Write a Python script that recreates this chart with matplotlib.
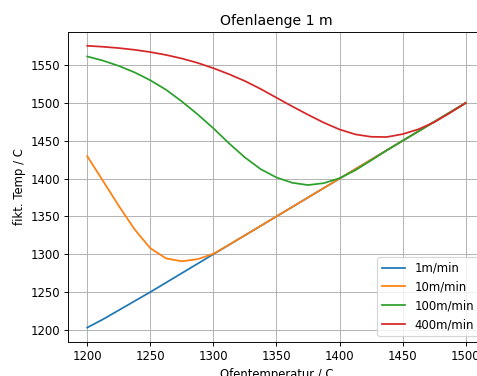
import numpy as np
import matplotlib
matplotlib.use("Agg")
import matplotlib.pyplot as plt

# Ofentemperatur (C)
T = np.arange(1200, 1500.1, 12.5)

# fiktive Temperatur fuer verschiedene Ziehgeschwindigkeiten
v1 = [1203, 1214, 1226, 1238, 1250, 1262.5, 1275, 1287.5, 1300, 1312.5,
      1325, 1337.5, 1350, 1362.5, 1375, 1387.5, 1400, 1412.5, 1425, 1437.5,
      1450, 1462.5, 1475, 1487.5, 1500]
v10 = [1429.6, 1397, 1364, 1333, 1308, 1294.5, 1290.7, 1293.5, 1300.5, 1312.6,
       1325, 1337.5, 1350, 1362.5, 1375, 1387.5, 1400, 1412.5, 1425, 1437.5,
       1450, 1462.5, 1475, 1487.5, 1500]
v100 = [1561.5, 1556, 1549, 1540.5, 1530, 1517.5, 1502, 1485, 1466.5, 1446.5,
        1428, 1412.5, 1401.5, 1394.5, 1391.5, 1394, 1400.5, 1411, 1424, 1437.5,
        1450, 1462.5, 1475, 1487.5, 1500]
v400 = [1575.6, 1574.3, 1572.6, 1570.3, 1567.3, 1563.5, 1558.8, 1553, 1546, 1538,
        1529, 1518.5, 1507, 1495.5, 1484.5, 1474, 1465, 1458.5, 1455.3, 1455,
        1458.8, 1465.2, 1474.5, 1486.8, 1500]

labels = ['1m/min', '10m/min', '100m/min', '400m/min']

dpi = 83.9
fig = plt.figure(figsize=(477 / dpi, 376 / dpi), dpi=dpi)
ax = fig.add_axes([0.1432, 0.0912, 0.8727, 0.8245])

for vals, lab in zip([v1, v10, v100, v400], labels):
    ax.plot(T, vals, label=lab)

ax.set_title('Ofenlaenge 1 m')
ax.set_xlabel('Ofentemperatur / C')
ax.set_ylabel('fikt. Temp / C')
ax.grid(True)
ax.legend(loc='lower right')

fig.savefig('out.png', dpi=dpi)
